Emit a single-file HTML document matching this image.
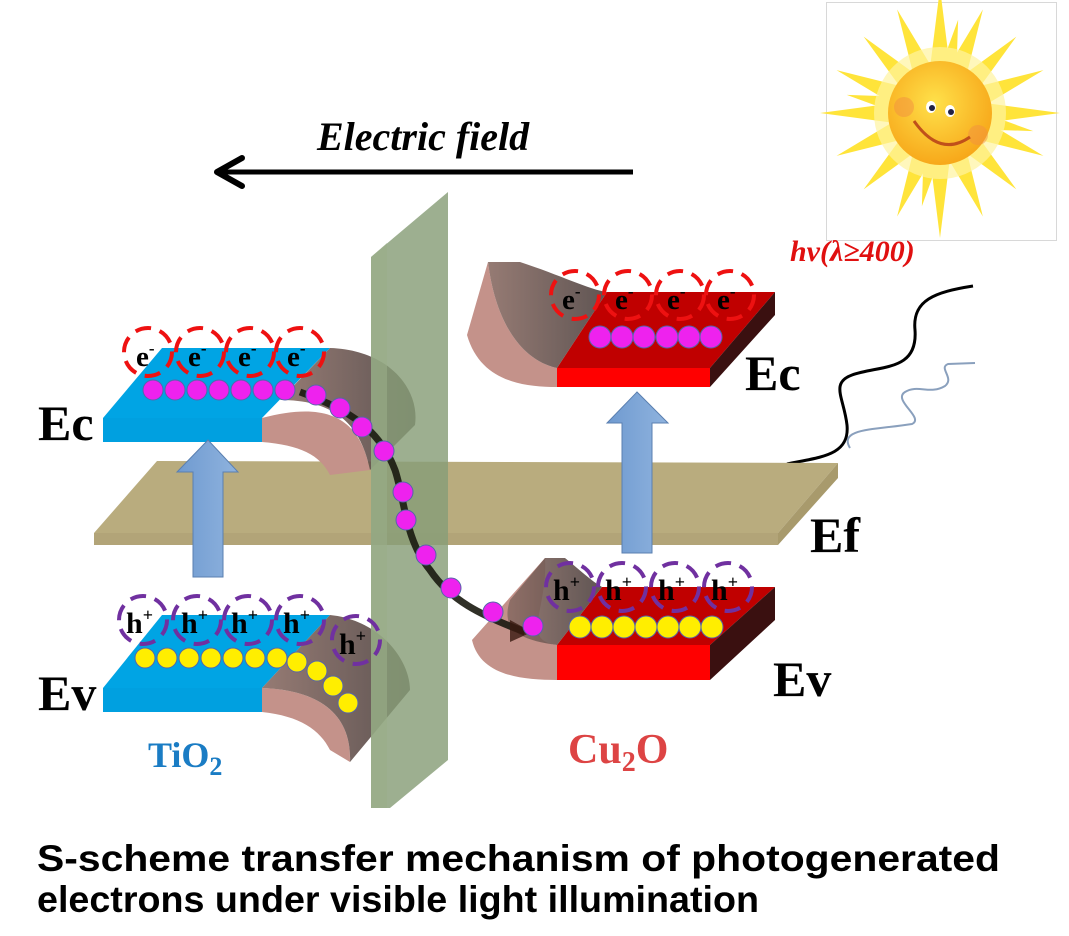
<!DOCTYPE html>
<html><head><meta charset="utf-8"><style>
html,body{margin:0;padding:0;background:#fff;}
svg{display:block;}
</style></head><body>
<svg width="1069" height="936" viewBox="0 0 1069 936" xmlns="http://www.w3.org/2000/svg">
<defs>
<radialGradient id="sunG" cx="0.45" cy="0.4" r="0.6"><stop offset="0" stop-color="#ffe14a"/><stop offset="1" stop-color="#f7a81a"/></radialGradient>
<linearGradient id="brownG" x1="0" y1="0" x2="1" y2="0"><stop offset="0" stop-color="#8a6c64"/><stop offset="1" stop-color="#4e4240"/></linearGradient>
<linearGradient id="arrG" x1="0" y1="0" x2="1" y2="0"><stop offset="0" stop-color="#6f9ad0"/><stop offset="1" stop-color="#8fb3de"/></linearGradient>
</defs>

<rect x="826.5" y="2.5" width="230" height="238" fill="#fff" stroke="#d8d8d8"/>
<g transform="translate(940,113)">
<g fill="#ffe43a">
<polygon points="0,-125 10,-45 -10,-45"/>
<polygon points="0,125 10,45 -10,45"/>
<polygon points="-120,0 -45,10 -45,-10"/>
<polygon points="120,0 45,10 45,-10"/>
<polygon points="0,-112 10,-45 -10,-45" transform="rotate(22.5)"/>
<polygon points="0,-108 10,-45 -10,-45" transform="rotate(45)"/>
<polygon points="0,-112 10,-45 -10,-45" transform="rotate(67.5)"/>
<polygon points="0,-112 10,-45 -10,-45" transform="rotate(112.5)"/>
<polygon points="0,-108 10,-45 -10,-45" transform="rotate(135)"/>
<polygon points="0,-112 10,-45 -10,-45" transform="rotate(157.5)"/>
<polygon points="0,-112 10,-45 -10,-45" transform="rotate(202.5)"/>
<polygon points="0,-108 10,-45 -10,-45" transform="rotate(225)"/>
<polygon points="0,-112 10,-45 -10,-45" transform="rotate(247.5)"/>
<polygon points="0,-112 10,-45 -10,-45" transform="rotate(292.5)"/>
<polygon points="0,-108 10,-45 -10,-45" transform="rotate(315)"/>
<polygon points="0,-112 10,-45 -10,-45" transform="rotate(337.5)"/>
<polygon points="0,-95 8,-45 -8,-45" transform="rotate(11)"/>
<polygon points="0,-95 8,-45 -8,-45" transform="rotate(101)"/>
<polygon points="0,-95 8,-45 -8,-45" transform="rotate(191)"/>
<polygon points="0,-95 8,-45 -8,-45" transform="rotate(281)"/>
</g>
<circle r="66" fill="#fff3a0" opacity="0.7"/>
<circle r="52" fill="url(#sunG)"/>
<circle cx="-36" cy="-6" r="10" fill="#f29040" opacity="0.5"/>
<circle cx="38" cy="22" r="10" fill="#f29040" opacity="0.5"/>
<ellipse cx="-9" cy="-6" rx="5" ry="6" fill="#fff"/><circle cx="-8" cy="-5" r="3" fill="#224"/>
<ellipse cx="10" cy="-2" rx="5" ry="6" fill="#fff"/><circle cx="11" cy="-1" r="3" fill="#224"/>
<path d="M-26,8 Q0,45 30,24" fill="none" stroke="#c0501a" stroke-width="3"/>
</g>
<text x="790" y="261" font-family="Liberation Serif, serif" font-style="italic" font-weight="bold" font-size="30" fill="#e01010">hv(λ≥400)</text>

<path d="M850,448 C838,428 875,430 912,424 C925,418 892,400 905,392 C918,384 930,395 945,386 C955,378 938,368 948,364 L975,363" fill="none" stroke="#8aa0bd" stroke-width="2"/>
<path d="M787,464 C820,457 850,456 847,425 C844,398 830,383 852,375 C880,365 918,372 915,330 C912,300 935,292 973,286" fill="none" stroke="#000" stroke-width="3"/>

<text x="317" y="150" font-family="Liberation Serif, serif" font-style="italic" font-weight="bold" font-size="40" fill="#000">Electric field</text>
<line x1="633" y1="172" x2="220" y2="172" stroke="#000" stroke-width="5"/>
<polyline points="242,158 217,172 242,186" fill="none" stroke="#000" stroke-width="6" stroke-linecap="round" stroke-linejoin="round"/>

<polygon points="94,533 157,461 838,463 778,533" fill="#b9ac7e"/>
<polygon points="94,533 778,533 778,545 94,545" fill="#b2a478"/>
<polygon points="778,533 838,463 838,478 778,545" fill="#a89a6c"/>

<polygon points="103,418 162,348 330,348 262,418" fill="#00a4e4"/>
<rect x="103" y="418" width="160" height="24" fill="#00a0e0"/>
<path d="M262,418 L262,442 C300,445 320,455 330,475 L370,470 C360,420 330,400 262,418 Z" fill="#c4928a"/>
<path d="M280,400 L330,348 C390,350 420,390 415,425 L370,470 C360,420 330,400 280,400 Z" fill="url(#brownG)" opacity="0.9"/>
<polygon points="103,688 162,615 330,615 262,688" fill="#00a4e4"/>
<rect x="103" y="688" width="160" height="24" fill="#00a0e0"/>
<path d="M262,688 L262,712 C300,716 320,730 330,750 L350,762 C352,715 320,690 262,688 Z" fill="#c4928a"/>
<path d="M262,688 L330,615 C380,620 410,660 410,690 L350,762 C352,715 320,690 262,688 Z" fill="url(#brownG)" opacity="0.9"/>

<polygon points="557,368 607,292 775,292 710,368" fill="#c00000"/>
<rect x="557" y="368" width="153" height="19" fill="#ff0000"/>
<polygon points="710,368 775,292 775,315 710,387" fill="#3a1010"/>
<path d="M557,368 L557,387 C520,387 480,380 467,335 L488,262 C495,320 520,360 557,368 Z" fill="#c4928a"/>
<path d="M488,262 L520,262 C560,275 590,290 607,292 L557,368 C520,360 495,320 488,262 Z" fill="url(#brownG)" opacity="0.9"/>
<polygon points="557,645 602,587 775,587 710,645" fill="#c00000"/>
<rect x="557" y="645" width="153" height="35" fill="#ff0000"/>
<polygon points="710,645 775,587 775,620 710,680" fill="#3a1010"/>
<path d="M557,645 L557,680 C520,680 480,675 472,640 L545,558 C548,610 520,640 557,645 Z" fill="#c4928a"/>
<path d="M545,558 L565,558 C580,570 590,580 602,587 L557,645 C520,640 500,630 510,600 Z" fill="url(#brownG)" opacity="0.9"/>

<polygon points="371,257 448,192 448,760 390,808 371,808" fill="#889e78" opacity="0.82"/>
<polygon points="371,257 387,243 387,808 371,808" fill="#9aae88" opacity="0.6"/>

<path d="M300,392 C350,410 380,430 395,470 C405,500 405,540 430,570 C450,600 480,615 525,632" fill="none" stroke="#1a1a10" stroke-width="7" opacity="0.9"/>
<polygon points="510,620 532,632 510,642" fill="#3a1a10" opacity="0.8"/>

<polygon points="193,577 193,472 177,472 208,440 238,472 223,472 223,577" fill="url(#arrG)" stroke="#5a7fb0" stroke-width="1"/>
<polygon points="622,553 622,423 607,423 637,392 668,423 652,423 652,553" fill="url(#arrG)" stroke="#5a7fb0" stroke-width="1"/>

<g fill="#ee22ee" stroke="#5566aa" stroke-width="1">
<circle cx="153" cy="390" r="10"/><circle cx="175" cy="390" r="10"/><circle cx="197" cy="390" r="10"/><circle cx="219" cy="390" r="10"/><circle cx="241" cy="390" r="10"/><circle cx="263" cy="390" r="10"/><circle cx="285" cy="390" r="10"/>
<circle cx="316" cy="395" r="10"/><circle cx="340" cy="408" r="10"/><circle cx="362" cy="427" r="10"/><circle cx="384" cy="451" r="10"/><circle cx="403" cy="492" r="10"/><circle cx="406" cy="520" r="10"/><circle cx="426" cy="555" r="10"/><circle cx="451" cy="588" r="10"/><circle cx="493" cy="612" r="10"/><circle cx="533" cy="626" r="10"/>
<circle cx="600" cy="337" r="11"/><circle cx="622" cy="337" r="11"/><circle cx="644" cy="337" r="11"/><circle cx="667" cy="337" r="11"/><circle cx="689" cy="337" r="11"/><circle cx="711" cy="337" r="11"/>
</g>
<g fill="#ffee00" stroke="#5566aa" stroke-width="1">
<circle cx="145" cy="658" r="10"/><circle cx="167" cy="658" r="10"/><circle cx="189" cy="658" r="10"/><circle cx="211" cy="658" r="10"/><circle cx="233" cy="658" r="10"/><circle cx="255" cy="658" r="10"/><circle cx="277" cy="658" r="10"/>
<circle cx="297" cy="662" r="10"/><circle cx="317" cy="671" r="10"/><circle cx="333" cy="686" r="10"/><circle cx="348" cy="703" r="10"/>
<circle cx="580" cy="627" r="11"/><circle cx="602" cy="627" r="11"/><circle cx="624" cy="627" r="11"/><circle cx="646" cy="627" r="11"/><circle cx="668" cy="627" r="11"/><circle cx="690" cy="627" r="11"/><circle cx="712" cy="627" r="11"/>
</g>

<g fill="none" stroke="#ee1111" stroke-width="4" stroke-dasharray="16,9">
<circle cx="148" cy="352" r="24"/><circle cx="200" cy="352" r="24"/><circle cx="250" cy="352" r="24"/><circle cx="300" cy="352" r="24"/>
<circle cx="575" cy="295" r="24"/><circle cx="628" cy="295" r="24"/><circle cx="680" cy="295" r="24"/><circle cx="730" cy="295" r="24"/>
</g>
<g fill="none" stroke="#7030a0" stroke-width="4" stroke-dasharray="16,9">
<circle cx="143" cy="620" r="24"/><circle cx="197" cy="620" r="24"/><circle cx="248" cy="620" r="24"/><circle cx="300" cy="620" r="24"/><circle cx="356" cy="640" r="24"/>
<circle cx="570" cy="587" r="24"/><circle cx="622" cy="587" r="24"/><circle cx="675" cy="587" r="24"/><circle cx="728" cy="587" r="24"/>
</g>
<g font-family="Liberation Serif, serif" font-weight="bold" font-size="29" fill="#000">
<text x="136" y="366">e<tspan dy="-12" font-size="17">-</tspan></text>
<text x="188" y="366">e<tspan dy="-12" font-size="17">-</tspan></text>
<text x="238" y="366">e<tspan dy="-12" font-size="17">-</tspan></text>
<text x="287" y="366">e<tspan dy="-12" font-size="17">-</tspan></text>
<text x="562" y="309">e<tspan dy="-12" font-size="17">-</tspan></text>
<text x="615" y="309">e<tspan dy="-12" font-size="17">-</tspan></text>
<text x="667" y="309">e<tspan dy="-12" font-size="17">-</tspan></text>
<text x="717" y="309">e<tspan dy="-12" font-size="17">-</tspan></text>
</g>
<g font-family="Liberation Serif, serif" font-weight="bold" font-size="30" fill="#000">
<text x="126" y="633">h<tspan dy="-12" font-size="18">+</tspan></text>
<text x="181" y="633">h<tspan dy="-12" font-size="18">+</tspan></text>
<text x="231" y="633">h<tspan dy="-12" font-size="18">+</tspan></text>
<text x="283" y="633">h<tspan dy="-12" font-size="18">+</tspan></text>
<text x="339" y="654">h<tspan dy="-12" font-size="18">+</tspan></text>
<text x="553" y="600">h<tspan dy="-12" font-size="18">+</tspan></text>
<text x="605" y="600">h<tspan dy="-12" font-size="18">+</tspan></text>
<text x="658" y="600">h<tspan dy="-12" font-size="18">+</tspan></text>
<text x="711" y="600">h<tspan dy="-12" font-size="18">+</tspan></text>
</g>

<g font-family="Liberation Serif, serif" font-weight="bold" font-size="50" fill="#000">
<text x="38" y="440">Ec</text>
<text x="38" y="710">Ev</text>
<text x="745" y="390">Ec</text>
<text x="810" y="552">Ef</text>
<text x="773" y="696">Ev</text>
</g>
<text x="148" y="767" font-family="Liberation Serif, serif" font-weight="bold" font-size="36" fill="#1a7cc4">TiO<tspan dy="8" font-size="26">2</tspan></text>
<text x="568" y="763" font-family="Liberation Serif, serif" font-weight="bold" font-size="42" fill="#dd4444">Cu<tspan dy="8" font-size="28">2</tspan><tspan dy="-8">O</tspan></text>

<g font-family="Liberation Sans, Arial, sans-serif" font-weight="bold" font-size="37" fill="#000">
<text x="37" y="871" textLength="963" lengthAdjust="spacingAndGlyphs">S-scheme transfer mechanism of photogenerated</text>
<text x="37" y="912" textLength="722" lengthAdjust="spacingAndGlyphs">electrons under visible light illumination</text>
</g>
</svg>
</body></html>
